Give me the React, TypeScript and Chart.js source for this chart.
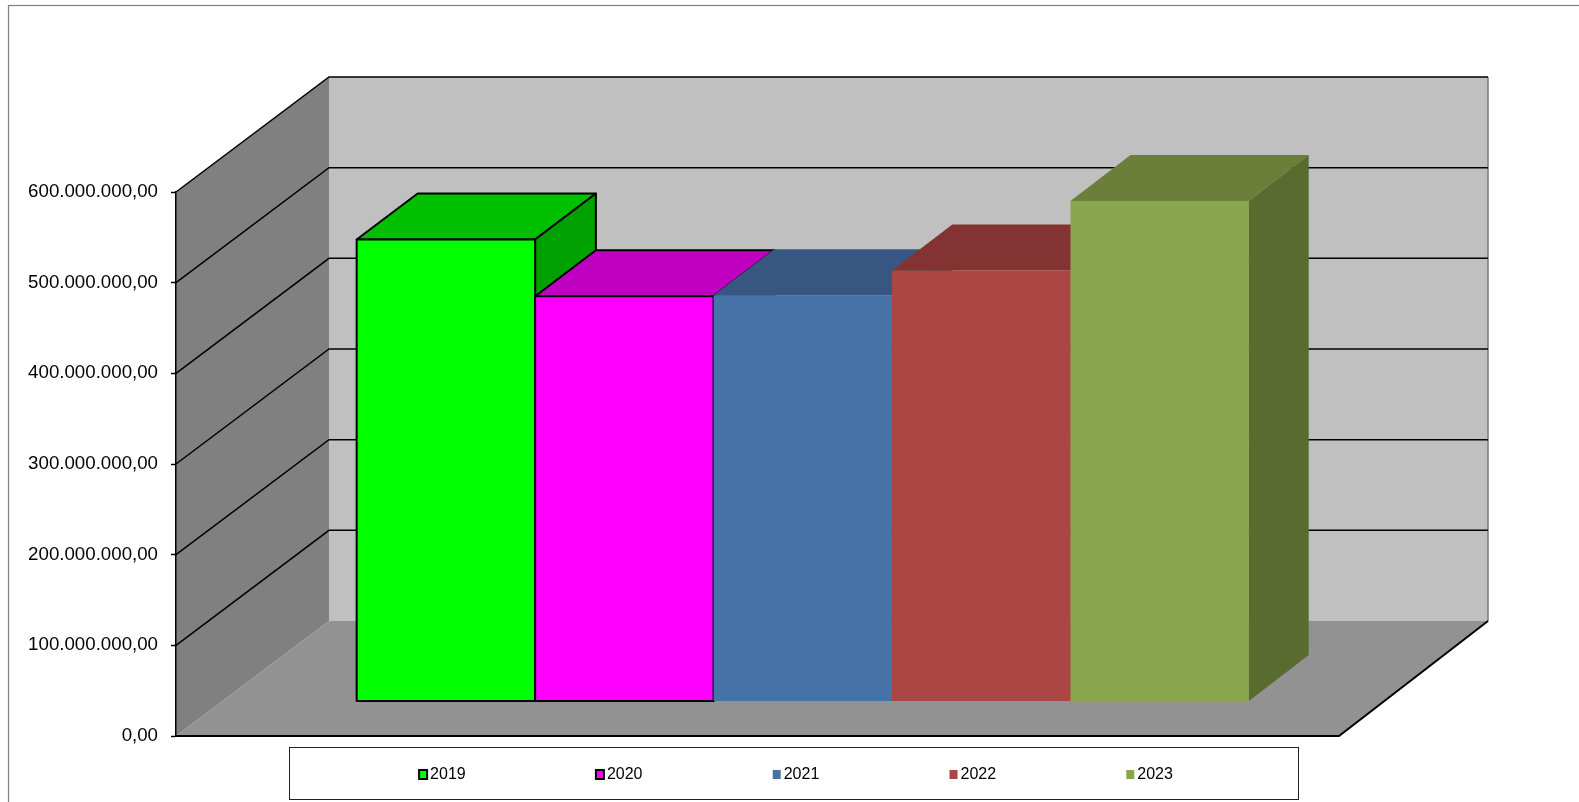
import React, { useEffect, useRef } from "react";
import { Chart, registerables } from "chart.js";

Chart.register(...registerables);

// ---- data ----
const categories = [""];
const seriesLabels = ["2019", "2020", "2021", "2022", "2023"];
const seriesValues = [509500000, 447000000, 448000000, 475500000, 552000000];
const yMin = 0;
const yMax = 600000000;
const yStep = 100000000;

// ---- styles ----
const frontColors = ["#00ff00", "#ff00ff", "#4572a7", "#aa4643", "#89a54e"];
const topColors = ["#00c000", "#c000c0", "#375782", "#833432", "#6b7f3b"];
const sideColors = ["#00a000", "#a000a0", "#2c4668", "#6c2b29", "#5a6b30"];
const outlined = [true, true, false, false, false];

const FONT = "'Liberation Sans', Arial, sans-serif";
const DX_LEFT = 153;
const DX_RIGHT = 149;
const DY = 115;
const F0 = 0.3;
const F1 = 0.7;

function fmt(v: number): string {
  const s = Math.round(v).toString().replace(/\B(?=(\d{3})+(?!\d))/g, ".");
  return s + ",00";
}

function poly(ctx: CanvasRenderingContext2D, pts: number[][], fill: string, stroke?: string, lw = 2) {
  ctx.beginPath();
  ctx.moveTo(pts[0][0], pts[0][1]);
  for (let i = 1; i < pts.length; i++) ctx.lineTo(pts[i][0], pts[i][1]);
  ctx.closePath();
  ctx.fillStyle = fill;
  ctx.fill();
  if (stroke) {
    ctx.strokeStyle = stroke;
    ctx.lineWidth = lw;
    ctx.lineJoin = "round";
    ctx.stroke();
  }
}

function dxAt(chart: any, x: number): number {
  const ca = chart.chartArea;
  const t = (x - ca.left) / (ca.right - ca.left);
  return DX_LEFT + (DX_RIGHT - DX_LEFT) * t;
}

// project a front-plane point (x, y) to depth fraction f
function proj(chart: any, x: number, y: number, f: number): number[] {
  return [x + f * dxAt(chart, x), y - f * DY];
}

const threeD = {
  id: "threeD",
  beforeDraw(chart: any) {
    const ctx: CanvasRenderingContext2D = chart.ctx;
    const ca = chart.chartArea;
    const y = chart.scales.y;
    const L = ca.left;
    const R = ca.right;
    const T = y.getPixelForValue(yMax);
    const B = y.getPixelForValue(yMin);
    const bl = (py: number) => proj(chart, L, py, 1);
    const br = (py: number) => proj(chart, R, py, 1);
    ctx.save();
    // outer border
    ctx.strokeStyle = "#7f7f7f";
    ctx.lineWidth = 1.2;
    ctx.strokeRect(8.5, 5.5, chart.width + 10, chart.height + 10);
    // walls
    poly(ctx, [bl(T), br(T), br(B), bl(B)], "#c0c0c0");
    poly(ctx, [[L, B], [L, T], bl(T), bl(B)], "#808080");
    poly(ctx, [[L, B], [R, B], br(B), bl(B)], "#929292");
    // back wall right edge
    ctx.strokeStyle = "#7a7a7a";
    ctx.lineWidth = 1.5;
    ctx.beginPath();
    ctx.moveTo(br(T)[0], br(T)[1]);
    ctx.lineTo(br(B)[0], br(B)[1]);
    ctx.stroke();
    // gridlines
    ctx.strokeStyle = "#000";
    ctx.lineWidth = 1.5;
    for (const t of y.ticks) {
      if (t.value <= yMin) continue;
      const py = y.getPixelForValue(t.value);
      const a = bl(py);
      const b = br(py);
      ctx.beginPath();
      ctx.moveTo(L, py);
      ctx.lineTo(a[0], a[1]);
      ctx.lineTo(b[0], b[1]);
      ctx.stroke();
    }
    // floor edges
    ctx.lineWidth = 2;
    ctx.beginPath();
    ctx.moveTo(L, B);
    ctx.lineTo(R, B);
    ctx.lineTo(br(B)[0], br(B)[1]);
    ctx.stroke();
    ctx.restore();
  },
  beforeDatasetDraw() {
    return false;
  },
  afterDatasetsDraw(chart: any) {
    const ctx: CanvasRenderingContext2D = chart.ctx;
    ctx.save();
    chart.data.datasets.forEach((ds: any, i: number) => {
      const meta = chart.getDatasetMeta(i);
      const el = meta.data[0];
      if (!el) return;
      const p = el.getProps(["x", "y", "base", "width"], true);
      const x0 = p.x - p.width / 2;
      const x1 = p.x + p.width / 2;
      const ftl = proj(chart, x0, p.y, F0);
      const ftr = proj(chart, x1, p.y, F0);
      const fbr = proj(chart, x1, p.base, F0);
      const fbl = proj(chart, x0, p.base, F0);
      const btl = proj(chart, x0, p.y, F1);
      const btr = proj(chart, x1, p.y, F1);
      const bbr = proj(chart, x1, p.base, F1);
      const stroke = outlined[i] ? "#000" : undefined;
      poly(ctx, [ftl, ftr, btr, btl], topColors[i], stroke);
      poly(ctx, [ftr, btr, bbr, fbr], sideColors[i], stroke);
      poly(ctx, [ftl, ftr, fbr, fbl], frontColors[i], stroke);
    });
    ctx.restore();
  },
  afterDraw(chart: any) {
    const ctx: CanvasRenderingContext2D = chart.ctx;
    const bx = 289.5;
    const by = 747.5;
    const bw = 1009;
    const bh = 52;
    ctx.save();
    ctx.fillStyle = "#fff";
    ctx.fillRect(bx, by, bw, bh);
    ctx.strokeStyle = "#222";
    ctx.lineWidth = 1;
    ctx.strokeRect(bx, by, bw, bh);
    ctx.font = `16px ${FONT}`;
    ctx.textBaseline = "middle";
    ctx.textAlign = "left";
    const cx = bx + bw / 2 + 2;
    const cy = by + bh / 2 + 1;
    const spacing = 176.8;
    const n = chart.data.datasets.length;
    chart.data.datasets.forEach((ds: any, i: number) => {
      const tw = ctx.measureText(ds.label).width;
      const itemW = 8 + 3 + tw;
      const ic = cx + (i - (n - 1) / 2) * spacing;
      const x0 = ic - itemW / 2;
      ctx.fillStyle = frontColors[i];
      ctx.fillRect(x0, cy - 4.5, 8, 9);
      if (outlined[i]) {
        ctx.strokeStyle = "#000";
        ctx.lineWidth = 2;
        ctx.strokeRect(x0, cy - 4.5, 8, 9);
      }
      ctx.fillStyle = "#000";
      ctx.fillText(ds.label, x0 + 11, cy);
    });
    ctx.restore();
  },
};

export default function App() {
  const ref = useRef<HTMLCanvasElement | null>(null);
  useEffect(() => {
    if (!ref.current) return;
    const chart = new Chart(ref.current, {
      type: "bar",
      data: {
        labels: categories,
        datasets: seriesLabels.map((label, i) => ({
          label,
          data: [seriesValues[i]],
          backgroundColor: frontColors[i],
          borderColor: "#000",
          borderWidth: outlined[i] ? 2 : 0,
        })),
      },
      options: {
        animation: false,
        responsive: true,
        maintainAspectRatio: false,
        layout: { padding: { left: 0, right: 240, top: 192, bottom: 66 } },
        datasets: { bar: { categoryPercentage: 0.768, barPercentage: 1 } },
        plugins: { legend: { display: false }, tooltip: { enabled: false } },
        scales: {
          x: { display: false },
          y: {
            min: yMin,
            max: yMax,
            afterFit: (s: any) => {
              s.width = 176;
            },
            ticks: {
              stepSize: yStep,
              color: "#000",
              padding: 13,
              font: { family: FONT, size: 18.7 },
              callback: (v: any) => fmt(Number(v)),
            },
            grid: {
              drawOnChartArea: false,
              drawTicks: true,
              tickLength: 5,
              tickColor: "#000",
              tickWidth: 1.5,
            },
            border: { display: true, color: "#000", width: 1.5 },
          },
        },
      } as any,
      plugins: [threeD as any],
    });
    return () => chart.destroy();
  }, []);
  return (
    <div style={{ position: "fixed", left: 0, top: 0, width: 1579, height: 802, background: "#fff" }}>
      <canvas ref={ref} />
    </div>
  );
}
